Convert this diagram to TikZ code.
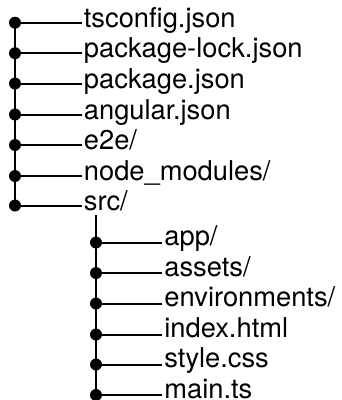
\documentclass[tikz,border=0pt]{standalone}
\usepackage{fontspec}
\setmainfont{TeX Gyre Heros}
\begin{document}
\begin{tikzpicture}[x=1pt,y=-1pt,
  trunk/.style={line width=2.2pt},
  branch/.style={line width=2pt},
  knot/.style={circle,fill=black,inner sep=0pt,minimum size=12pt},
  entry/.style={anchor=base west,inner xsep=2.2pt,inner ysep=0pt,
    font=\fontsize{27.3}{30}\selectfont}]
\useasboundingbox (0,0) rectangle (341,400);

% top level: vertical spine and its entries
\foreach \n/\y/\t in {a1/22.7/{tsconfig.json}, a2/53.2/{package-lock.json},
    a3/83.5/{package.json}, a4/114.5/{angular.json}, a5/145/{e2e/},
    a6/176/{node\_modules/}, a7/205.5/{src/}} {
  \coordinate (p\n) at (15,\y);
  \node[entry] (\n) at (81.5,\y+4.6) {\t};
}
\draw[trunk] (pa1) -- (pa7);
\foreach \n in {a1,a2,a3,a4,a5,a6,a7} {
  \draw[branch] (p\n) -- (p\n -| \n.west);
  \node[knot] at (p\n) {};
}

% contents of src/
\coordinate (top) at (96,215);
\foreach \n/\y/\t in {b1/242.5/{app/}, b2/273/{assets/}, b3/303.5/{environments/},
    b4/334.5/{index.html}, b5/364.5/{style.css}, b6/395/{main.ts}} {
  \coordinate (p\n) at (96,\y);
  \node[entry] (\n) at (162,\y+3.3) {\t};
}
\draw[trunk] (top) -- (pb6);
\foreach \n in {b1,b2,b3,b4,b5,b6} {
  \draw[branch] (p\n) -- (p\n -| \n.west);
  \node[knot] at (p\n) {};
}
\end{tikzpicture}
\end{document}
